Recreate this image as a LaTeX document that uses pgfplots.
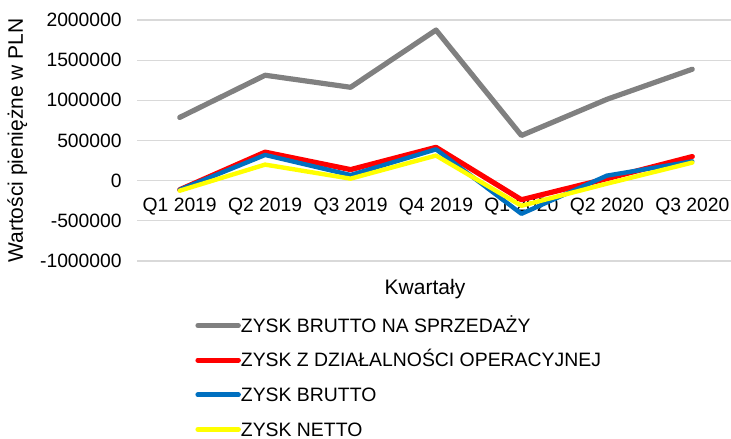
\documentclass[border=0pt]{standalone}
\usepackage{pgfplots}
\pgfplotsset{compat=1.18}
\usepackage{fontspec}
\setmainfont{Liberation Sans}
\definecolor{cgray}{HTML}{808080}
\definecolor{cred}{HTML}{FF0000}
\definecolor{cblue}{HTML}{0070C0}
\definecolor{cyellow}{HTML}{FFFF00}
\definecolor{cgrid}{HTML}{D9D9D9}
\begin{document}
\begin{tikzpicture}
\begin{axis}[
  at={(68.5pt,88.5pt)}, anchor=south west,
  scale only axis, width=299pt, height=120.5pt,
  xmin=-0.5, xmax=6.5,
  ymin=-1000000, ymax=2000000,
  ytick={-1000000,-500000,0,500000,1000000,1500000,2000000},
  xtick={0,1,2,3,4,5,6},
  xticklabels={Q1 2019,Q2 2019,Q3 2019,Q4 2019,Q1 2020,Q2 2020,Q3 2020},
  axis x line=middle, axis y line=left,
  axis line style={draw=none},
  tick style={draw=none},
  hide obscured x ticks=false, hide obscured y ticks=false,
  ymajorgrids, grid style={cgrid, line width=0.6pt},
  scaled y ticks=false,
  /pgf/number format/assume math mode=true,
  yticklabel style={/pgf/number format/fixed, /pgf/number format/precision=0, /pgf/number format/1000 sep={}, font=\fontsize{9.65}{11}\selectfont, xshift=-2pt},
  xticklabel style={font=\fontsize{9.65}{11}\selectfont, anchor=north, yshift=-3pt},
  xlabel={Kwartały},
  xlabel style={at={(axis description cs:0.4816,-0.116)}, anchor=center, font=\fontsize{10.5}{12}\selectfont},
  ylabel={Wartości pieniężne w PLN},
  ylabel style={at={(axis description cs:-0.200,0.5)}, anchor=center, rotate=0, font=\fontsize{10.5}{12}\selectfont},
  legend style={draw=none, fill=none, at={(axis description cs:0.097,-0.236)}, anchor=north west,
    inner sep=0pt, row sep=10pt, column sep=0pt,
    nodes={inner sep=0pt, text height=7pt, text depth=0.3pt},
    font=\fontsize{9.7}{11}\selectfont},
  legend cell align=left,
  legend image code/.code={\draw[#1, line width=2.5pt] (1.25pt,0pt) -- (21.5pt,0pt);},
  every axis plot/.append style={line join=round, line cap=round},
]
\addplot[cgray, line width=2.6pt] coordinates {(0,787500) (1,1312500) (2,1162500) (3,1875000) (4,562500) (5,1012500) (6,1387500)};
\addlegendentry{ZYSK BRUTTO NA SPRZEDAŻY}
\addplot[cred, line width=2.6pt] coordinates {(0,-112500) (1,355000) (2,137500) (3,415000) (4,-237500) (5,25000) (6,300000)};
\addlegendentry{ZYSK Z DZIAŁALNOŚCI OPERACYJNEJ}
\addplot[cblue, line width=2.2pt] coordinates {(0,-112500) (1,320000) (2,70000) (3,390000) (4,-412500) (5,62500) (6,240000)};
\addlegendentry{ZYSK BRUTTO}
\addplot[cyellow, line width=2.2pt] coordinates {(0,-125000) (1,200000) (2,25000) (3,312500) (4,-312500) (5,-37500) (6,225000)};
\addlegendentry{ZYSK NETTO}
\end{axis}
\pgfresetboundingbox
\path[use as bounding box] (0,0) rectangle (365.5pt,219pt);
\end{tikzpicture}
\end{document}
